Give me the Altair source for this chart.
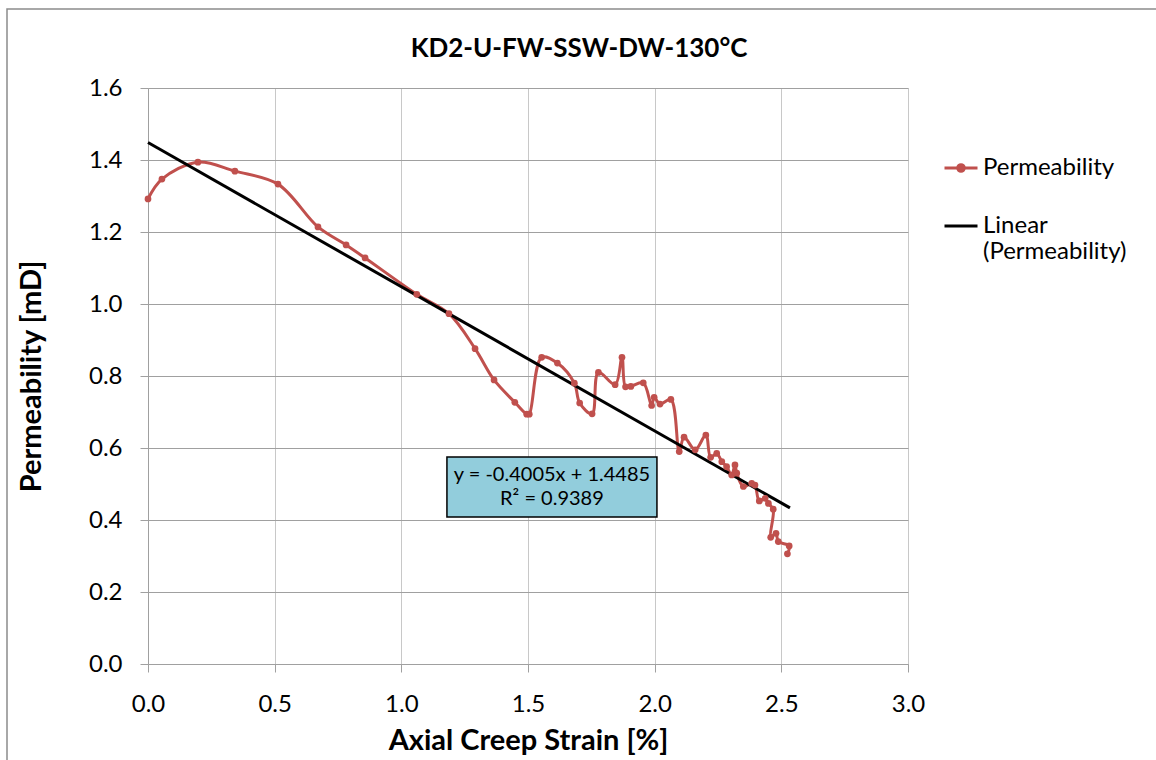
import altair as alt
import pandas as pd

strain = [0.000, 0.055, 0.197, 0.343, 0.513, 0.671, 0.782, 0.857, 1.061, 1.188,
          1.291, 1.366, 1.448, 1.495, 1.505, 1.554, 1.616, 1.683, 1.704, 1.753,
          1.778, 1.844, 1.871, 1.885, 1.906, 1.955, 1.988, 1.998, 2.021, 2.064,
          2.097, 2.116, 2.160, 2.202, 2.221, 2.245, 2.265, 2.284, 2.304, 2.317,
          2.324, 2.350, 2.383, 2.396, 2.413, 2.436, 2.449, 2.468, 2.458, 2.479,
          2.488, 2.531, 2.524]
perm = [1.292, 1.347, 1.394, 1.369, 1.333, 1.214, 1.164, 1.128, 1.027, 0.973,
        0.876, 0.789, 0.727, 0.694, 0.694, 0.852, 0.836, 0.780, 0.725, 0.695,
        0.810, 0.776, 0.852, 0.770, 0.771, 0.781, 0.718, 0.741, 0.722, 0.735,
        0.590, 0.630, 0.595, 0.636, 0.574, 0.585, 0.562, 0.548, 0.525, 0.553,
        0.530, 0.493, 0.502, 0.497, 0.453, 0.460, 0.446, 0.430, 0.352, 0.363,
        0.340, 0.328, 0.306]

# Linear trend line (Excel): y = -0.4005x + 1.4485
slope = -0.4005
intercept = 1.4485
trend_x = [0.0, 2.534]

series_names = ["Permeability", "Linear (Permeability)"]
series_colors = ["#C0504D", "#000000"]

eq_lines = ["y = -0.4005x + 1.4485", "R\u00b2 = 0.9389"]
eq_box_x = [1.180, 2.009]
eq_box_y = [0.408, 0.575]
eq_text_y = [0.525, 0.457]

title_text = "KD2-U-FW-SSW-DW-130\u00b0C"

FONT = "Lato"

df = pd.DataFrame({"x": strain, "y": perm, "idx": list(range(len(strain))),
                   "series": series_names[0]})
trend_df = pd.DataFrame({"x": trend_x, "y": [slope * v + intercept for v in trend_x],
                         "idx": [0, 1], "series": series_names[1]})
box_df = pd.DataFrame({"x": [eq_box_x[0]], "x2": [eq_box_x[1]],
                       "y": [eq_box_y[0]], "y2": [eq_box_y[1]]})
txt_df = pd.DataFrame({"x": [(eq_box_x[0] + eq_box_x[1]) / 2] * 2, "y": eq_text_y,
                       "t": eq_lines})
frame_df = pd.DataFrame({"k": [0]})

xs = alt.Scale(domain=[0, 3], nice=False)
ys = alt.Scale(domain=[0, 1.6], nice=False)

xaxis = alt.Axis(title="Axial Creep Strain [%]", values=[0, 0.5, 1, 1.5, 2, 2.5, 3],
                 format=".1f", labelFont=FONT, labelFontSize=24, labelColor="black",
                 labelFlush=False, labelOverlap=False,
                 titleFont=FONT, titleFontSize=29, titleFontWeight="bold", titleColor="black",
                 tickSize=8, tickColor="#A0A0A0", domainColor="#A0A0A0",
                 gridColor="#C8C8C8", labelPadding=20, titlePadding=10)
yaxis = alt.Axis(title="Permeability [mD]", values=[0, 0.2, 0.4, 0.6, 0.8, 1.0, 1.2, 1.4, 1.6],
                 format=".1f", labelFont=FONT, labelFontSize=24, labelColor="black",
                 labelFlush=False, labelOverlap=False,
                 titleFont=FONT, titleFontSize=29, titleFontWeight="bold", titleColor="black",
                 tickSize=8, tickColor="#A0A0A0", domainColor="#A0A0A0",
                 gridColor="#A0A0A0", labelPadding=18, titlePadding=42)

legend = alt.Legend(title=None, orient="none", legendX=795, legendY=62,
                    labelFont=FONT, labelFontSize=24, labelColor="black", labelLimit=0,
                    symbolSize=1089, symbolStrokeWidth=3, rowPadding=28, symbolOpacity=1,
                    labelExpr="datum.label == 'Linear (Permeability)' ? ['Linear', '(Permeability)'] : datum.label")

stroke_scale = alt.Scale(domain=series_names, range=series_colors)
fill_scale = alt.Scale(domain=series_names, range=series_colors)
shape_scale = alt.Scale(domain=series_names,
                        range=["M-1,0L1,0M-0.2,0A0.2,0.2,0,1,1,0.2,0A0.2,0.2,0,1,1,-0.2,0Z", "stroke"])

X = alt.X("x:Q", scale=xs, axis=xaxis)
Y = alt.Y("y:Q", scale=ys, axis=yaxis)

frame = alt.Chart(frame_df).mark_rect(fill=None, stroke="#8C8C8C", strokeWidth=1.5).encode(
    x=alt.value(-141), x2=alt.value(1040), y=alt.value(-79), y2=alt.value(700))

perm_line = alt.Chart(df).mark_line(interpolate="catmull-rom", strokeWidth=3).encode(
    x=X, y=Y, order=alt.Order("idx:Q"),
    stroke=alt.Stroke("series:N", scale=stroke_scale, legend=legend))
perm_pts = alt.Chart(df).mark_circle(size=45, opacity=1).encode(
    x=X, y=Y, fill=alt.Fill("series:N", scale=fill_scale, legend=legend))
trend_line = alt.Chart(trend_df).mark_line(strokeWidth=3).encode(
    x=X, y=Y, order=alt.Order("idx:Q"),
    stroke=alt.Stroke("series:N", scale=stroke_scale, legend=legend))
legend_carrier = alt.Chart(df).transform_filter("false").mark_point(filled=True, opacity=1).encode(
    x=X, y=Y,
    shape=alt.Shape("series:N", scale=shape_scale, legend=legend),
    fill=alt.Fill("series:N", scale=fill_scale, legend=legend),
    stroke=alt.Stroke("series:N", scale=stroke_scale, legend=legend))

box = alt.Chart(box_df).mark_rect(fill="#92CDDC", stroke="black", strokeWidth=1.5).encode(
    x="x:Q", x2="x2:Q", y="y:Q", y2="y2:Q")
eq_text = alt.Chart(txt_df).mark_text(font=FONT, fontSize=20, color="black").encode(
    x="x:Q", y="y:Q", text="t:N")

chart = alt.layer(frame, perm_line, trend_line, box, eq_text, perm_pts, legend_carrier).properties(
    width=760, height=576,
    title=alt.TitleParams(title_text, font=FONT, fontSize=26, fontWeight="bold", color="black",
                          anchor="middle", dx=51, dy=75, offset=0, baseline="alphabetic"),
    autosize=alt.AutoSizeParams(type="none"),
    padding={"left": 148, "top": 88, "right": 248, "bottom": 96},
).configure_view(stroke=None).configure(background="white")

chart.save("out.html", embed_options={"renderer": "svg", "actions": False})
